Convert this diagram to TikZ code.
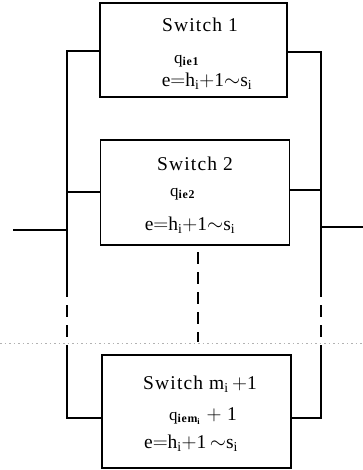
\documentclass[tikz,border=0pt]{standalone}
\usepackage{fontspec}
\setmainfont[LetterSpace=6]{Liberation Serif}
\begin{document}
\begin{tikzpicture}[x=1pt,y=-1pt,
  box/.style={draw,line width=1.2pt,inner sep=0pt},
  wire/.style={line width=1.2pt},
  dwire/.style={line width=1.2pt,dash pattern=on 12pt off 8pt},
  lbl/.style={inner sep=0pt,font=\fontsize{19.5}{22}\selectfont},
  qlbl/.style={inner sep=0pt,font=\fontsize{17}{20}\selectfont}]
\useasboundingbox (0,0) rectangle (363,470);
% boxes
\node[box,minimum width=187pt,minimum height=94pt] (b1) at (193.5,50) {};
\node[box,minimum width=189pt,minimum height=105pt] (b2) at (195,192.5) {};
\node[box,minimum width=189pt,minimum height=113pt] (b3) at (196.5,411.5) {};
% texts
\node[lbl] (t1a) at (200,25) {Switch 1};
\node[qlbl] (t1b) at (187,61) {q\textsubscript{\textbf{ie1}}};
\node[lbl] (t1c) at (207,81) {e$=$h\textsubscript{i}$+$1$\sim$s\textsubscript{i}};
\node[lbl] (t2a) at (195,164) {Switch 2};
\node[qlbl] (t2b) at (183,194) {q\textsubscript{\textbf{ie2}}};
\node[lbl] (t2c) at (190,225) {e$=$h\textsubscript{i}$+$1$\sim$s\textsubscript{i}};
\node[lbl] (t3a) at (200,384) {Switch m\textsubscript{i}$\,+$1};
\node[lbl] (t3b) at (203,416) {{\fontsize{17}{20}\selectfont q\textsubscript{\textbf{iem\textsubscript{i}}}}$\;+\;$1};
\node[lbl] (t3c) at (191,443) {e$=$h\textsubscript{i}$+$1$\,\sim$s\textsubscript{i}};
% bus coordinates
\coordinate (L1) at (67,51);
\coordinate (L2) at (67,192);
\coordinate (Ld1) at (67,285);
\coordinate (Ld2) at (67,345);
\coordinate (L3) at (67,418);
\coordinate (R1) at (321,52);
\coordinate (R2) at (321,190);
\coordinate (Rd1) at (321,285);
\coordinate (Rd2) at (321,345);
\coordinate (R3) at (321,418);
\coordinate (Lin) at (67,230);
\coordinate (Rout) at (321,227);
\coordinate (in) at (13,230);
\coordinate (out) at (363,227);
\coordinate (m1) at (198,252);
\coordinate (m2) at (198,342);
\coordinate (dl) at (0,343);
\coordinate (dr) at (363,343);
% left bus
\draw[wire] (b1.west |- L1) -- (L1) -- (Ld1);
\draw[dwire] (Ld1) -- (Ld2);
\draw[wire] (Ld2) -- (L3) -- (b3.west |- L3);
\draw[wire] (L2) -- (b2.west |- L2);
\draw[wire] (in) -- (Lin);
% right bus
\draw[wire] (b1.east |- R1) -- (R1) -- (Rd1);
\draw[dwire] (Rd1) -- (Rd2);
\draw[wire] (Rd2) -- (R3) -- (b3.east |- R3);
\draw[wire] (R2) -- (b2.east |- R2);
\draw[wire] (Rout) -- (out);
% middle dashed
\draw[dwire] (m1) -- (m2);
% faint dotted scan line
\draw[gray!60,line width=0.6pt,dash pattern=on 1.5pt off 3pt] (dl) -- (dr);
\end{tikzpicture}
\end{document}
